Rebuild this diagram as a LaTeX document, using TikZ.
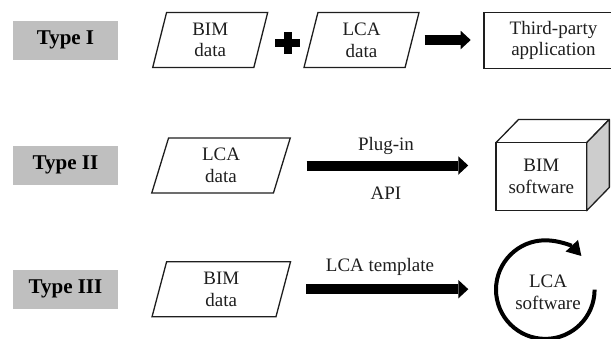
\documentclass[tikz,border=0pt]{standalone}
\usepackage{fontspec}
\setmainfont{Liberation Serif}
\usetikzlibrary{shapes.geometric,arrows.meta,calc}
\definecolor{labelgray}{RGB}{191,191,191}
\definecolor{sidegray}{RGB}{205,205,205}
\definecolor{ink}{RGB}{30,30,30}

\begin{document}
\begin{tikzpicture}[x=1pt,y=-1pt,
  every node/.style={font=\fontsize{19}{21.7}\selectfont, text=ink, align=center, inner sep=0pt},
  typelabel/.style={fill=labelgray, minimum width=105.5pt, minimum height=39pt, text=black,
    font=\fontsize{21}{24}\selectfont\bfseries},
  dataset/.style={draw=ink, line width=1.3pt, trapezium, trapezium stretches body,
    minimum height=55pt, outer sep=0pt},
  outlined/.style={draw=ink, line width=1.3pt, outer sep=0pt},
  blockarrow/.style={line width=10pt, black, -{Triangle[length=10pt,width=18.5pt,line width=0pt]}},
  ringarrow/.style={line width=4pt, black, -{Triangle[length=14pt,width=17pt,line width=0pt]}},
]
\useasboundingbox (0,0) rectangle (611,338);
\clip (0,0) rectangle (611,338);

% row labels
\node[typelabel] (t1) at (65.5,40) {Type I};
\node[typelabel] (t2) at (65.5,165) {Type II};
\node[typelabel] (t3) at (65.5,289.3) {Type III};

% Type I: BIM data + LCA data -> third-party application
\node[dataset, minimum width=115pt, trapezium left angle=68, trapezium right angle=112]
  (bim1) at (210.2,40) {BIM\\data};
\node[dataset, minimum width=115pt, trapezium left angle=68, trapezium right angle=112]
  (lca1) at (361.5,40) {LCA\\data};
\coordinate (plus) at (287.5,42.5);
\fill[black] ($(plus)+(-12.5,-4)$) rectangle ($(plus)+(12.5,4)$);
\fill[black] ($(plus)+(-4,-11)$) rectangle ($(plus)+(4,11)$);
\node[outlined, minimum width=139pt, minimum height=55.6pt] (app) at (553.5,40.5)
  {Third-party\\application};
\draw[blockarrow, shorten <=12.5pt, shorten >=13.3pt] (lca1.east) -- (lca1.east -| app.west);

% Type II: LCA data -> BIM software (plug-in / API)
\node[dataset, minimum width=138.5pt, trapezium left angle=64, trapezium right angle=116]
  (lca2) at (221,165.5) {LCA\\data};
\node[outlined, minimum width=90.7pt, minimum height=68pt] (bimsw) at (541.3,176.7)
  {BIM\\software};
\draw[outlined, line join=round] (bimsw.north west) -- ++(22.7,-23.3) -- ++(90.7,0)
  -- (bimsw.north east);
\filldraw[outlined, fill=sidegray, line join=round] (bimsw.north east) -- ++(22.7,-23.3)
  -- ++(0,68) -- (bimsw.south east) -- cycle;
\draw[blockarrow, shorten <=24.8pt, shorten >=27.7pt] (lca2.east) -- (lca2.east -| bimsw.west);
\node (plugin) at (386,146) {Plug-in};
\node (api) at (386,193.3) {API};

% Type III: BIM data -> LCA software (LCA template)
\node[dataset, minimum width=138.5pt, trapezium left angle=67, trapezium right angle=113]
  (bim3) at (221.3,289.2) {BIM\\data};
\coordinate (ring) at (545.3,289.6);
\node (lcasw) at (548,292.5) {LCA\\software};
\draw[ringarrow] ($(ring)+(49.3,0)$) arc[start angle=0, end angle=317, radius=49.3];
\draw[blockarrow, shorten <=22.8pt, shorten >=77pt] (bim3.east) -- (bim3.east -| ring);
\node (tmpl) at (380,266.7) {LCA template};
\end{tikzpicture}
\end{document}
